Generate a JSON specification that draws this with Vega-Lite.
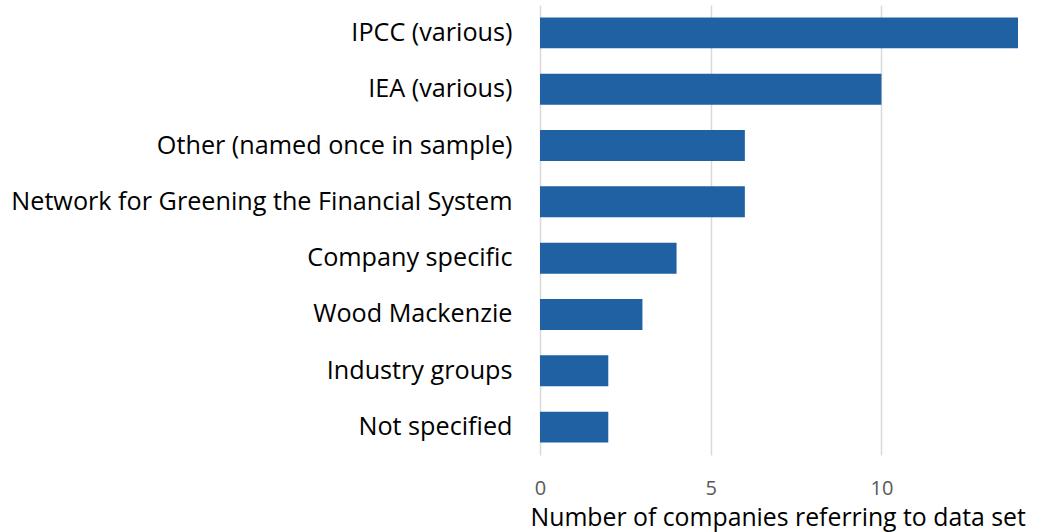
{
  "$schema": "https://vega.github.io/schema/vega-lite/v6.json",
  "autosize": "none",
  "padding": {"left": 540, "top": 5, "right": 22, "bottom": 77},
  "width": 478,
  "height": 450,
  "background": "white",
  "config": {"view": {"stroke": null}, "font": "Open Sans"},
  "data": {"values": [
    {"source": "IPCC (various)", "count": 14},
    {"source": "IEA (various)", "count": 10},
    {"source": "Other (named once in sample)", "count": 6},
    {"source": "Network for Greening the Financial System", "count": 6},
    {"source": "Company specific", "count": 4},
    {"source": "Wood Mackenzie", "count": 3},
    {"source": "Industry groups", "count": 2},
    {"source": "Not specified", "count": 2}
  ]},
  "mark": {"type": "bar", "color": "#1f61a2"},
  "encoding": {
    "y": {"field": "source", "type": "nominal", "sort": null,
      "scale": {"paddingInner": 0.45, "paddingOuter": 0.22},
      "axis": {"title": null, "domain": false, "ticks": false, "labelPadding": 28,
        "labelFontSize": 25.2, "labelColor": "#000000", "labelFont": "Open Sans", "labelLimit": 600}},
    "x": {"field": "count", "type": "quantitative",
      "scale": {"domain": [0, 14], "nice": false},
      "axis": {"title": "Number of companies referring to data set", "values": [0, 5, 10],
        "domain": false, "ticks": false, "grid": true, "gridColor": "#d9d9d9", "gridWidth": 1.5,
        "labelFlush": false, "labelOverlap": false,
        "labelPadding": 23, "labelFontSize": 20, "labelColor": "#595959", "labelFont": "Open Sans",
        "titleFontSize": 24.8, "titleFontWeight": "normal", "titleColor": "#000000", "titleFont": "Open Sans",
        "titlePadding": 7, "titleAnchor": "start", "titleAlign": "left", "titleX": -10}}
  }
}
